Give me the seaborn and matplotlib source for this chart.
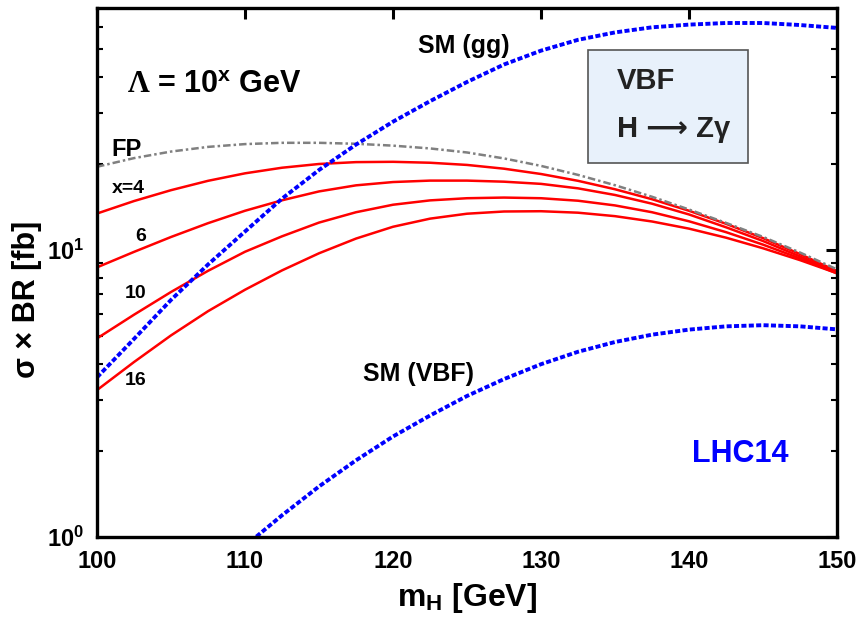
import numpy as np
import pandas as pd
import seaborn as sns
import matplotlib
matplotlib.use("Agg")
import matplotlib.pyplot as plt
from matplotlib.patches import Rectangle

# ---------------- data ----------------
m_grid = [100, 102.5, 105, 107.5, 110, 112.5, 115, 117.5, 120, 122.5, 125,
          127.5, 130, 132.5, 135, 137.5, 140, 142.5, 145, 147.5, 150]

fp_vals = [19.5, 20.9, 22.03, 22.87, 23.39, 23.63, 23.63, 23.45, 23.1, 22.59, 21.87,
           20.85, 19.64, 18.27, 16.82, 15.33, 13.84, 12.43, 11.11, 9.8, 8.56]
x4_vals = [13.4, 14.81, 16.16, 17.42, 18.5, 19.35, 19.94, 20.24, 20.29, 20.14, 19.79,
           19.2, 18.4, 17.42, 16.28, 15.03, 13.7, 12.34, 11.0, 9.68, 8.44]
x6_vals = [8.7, 9.85, 11.1, 12.4, 13.7, 14.9, 16.0, 16.8, 17.25, 17.45, 17.45,
           17.3, 17.0, 16.4, 15.55, 14.5, 13.3, 12.0, 10.75, 9.5, 8.35]
x10_vals = [4.92, 5.95, 7.14, 8.46, 9.86, 11.16, 12.46, 13.54, 14.38, 14.89, 15.15,
            15.23, 15.15, 14.85, 14.3, 13.54, 12.59, 11.54, 10.44, 9.35, 8.29]
x16_vals = [3.25, 4.07, 5.04, 6.12, 7.27, 8.49, 9.74, 10.96, 12.05, 12.86, 13.38,
            13.62, 13.65, 13.49, 13.12, 12.57, 11.87, 11.04, 10.14, 9.22, 8.30]
sm_gg_vals = [3.6, 4.9, 6.7, 8.9, 11.6, 15.1, 19.0, 23.3, 28.0, 33.0, 38.5,
              44.3, 49.5, 54.0, 57.3, 59.7, 61.0, 61.8, 61.8, 60.8, 59.4]

m_vbf = [110, 112.5, 115, 117.5, 120, 122.5, 125, 127.5, 130, 132.5, 135,
         137.5, 140, 142.5, 145, 147.5, 150]
sm_vbf_vals = [0.93, 1.19, 1.50, 1.85, 2.24, 2.65, 3.10, 3.55, 4.0, 4.42, 4.78,
               5.07, 5.28, 5.42, 5.47, 5.42, 5.29]

x_ticks = [100, 110, 120, 130, 140, 150]
y_ticks = [1, 10]
y_tick_labels = [r"$\mathbf{10^{0}}$", r"$\mathbf{10^{1}}$"]

# ---------------- style ----------------
sns.set_style("white")
plt.rcParams["font.family"] = ["Liberation Sans", "DejaVu Sans"]
plt.rcParams["font.weight"] = "bold"
plt.rcParams["text.color"] = "black"
plt.rcParams["axes.labelcolor"] = "black"
plt.rcParams["xtick.color"] = "black"
plt.rcParams["ytick.color"] = "black"
plt.rcParams["mathtext.fontset"] = "custom"
plt.rcParams["mathtext.rm"] = "Liberation Serif"
plt.rcParams["mathtext.it"] = "Liberation Serif:italic"
plt.rcParams["mathtext.bf"] = "Liberation Sans:bold"
plt.rcParams["mathtext.sf"] = "Liberation Sans:bold"

fig = plt.figure(figsize=(8.65, 6.21), dpi=100)
ax = fig.add_axes([97 / 865, 1 - 537 / 621, 740 / 865, 529 / 621])

red = "#ff0000"
blue = "#0000ff"
gray = "#808080"

df = pd.DataFrame({"m": m_grid, "FP": fp_vals, "x4": x4_vals, "x6": x6_vals,
                   "x10": x10_vals, "x16": x16_vals, "gg": sm_gg_vals})
dv = pd.DataFrame({"m": m_vbf, "vbf": sm_vbf_vals})

for col in ["x4", "x6", "x10", "x16"]:
    sns.lineplot(data=df, x="m", y=col, ax=ax, color=red, lw=1.8)
sns.lineplot(data=df, x="m", y="FP", ax=ax, color=gray, lw=1.8,
             linestyle=(0, (3, 1.2, 1, 1.2)))
sns.lineplot(data=df, x="m", y="gg", ax=ax, color=blue, lw=2.8,
             linestyle=(0, (1.3, 0.6)))
sns.lineplot(data=dv, x="m", y="vbf", ax=ax, color=blue, lw=2.8,
             linestyle=(0, (1.3, 0.6)))

ax.set_yscale("log")
ax.set_xlim(100, 150)
ax.set_ylim(1, 69.7)
ax.set_xticks(x_ticks)
ax.set_xticklabels([str(t) for t in x_ticks], fontsize=17, fontweight="bold")
ax.set_yticks(y_ticks)
ax.set_yticklabels(y_tick_labels, fontsize=17)
ax.minorticks_on()
ax.xaxis.set_minor_locator(matplotlib.ticker.NullLocator())
ax.tick_params(which="major", direction="in", length=8, width=2.2,
               top=True, right=True, pad=9)
ax.tick_params(which="minor", direction="in", length=4, width=1.5,
               left=True, right=True)
for s in ax.spines.values():
    s.set_linewidth(2.4)
    s.set_color("black")

ax.set_xlabel(r"m$_{\mathbf{H}}$ [GeV]", fontsize=23, fontweight="bold", labelpad=6)
ax.set_ylabel("σ × BR [fb]", fontsize=22, fontweight="bold")
ax.yaxis.set_label_coords(-0.074, 0.45)

# ---------------- annotations ----------------
ax.text(102.03, 35.2, r"$\mathrm{\Lambda}$ = 10$^{\mathbf{x}}$ GeV", fontsize=22,
        fontweight="bold", va="baseline", ha="left")
ax.text(101.0, 21.3, "FP", fontsize=17, fontweight="bold", va="baseline")
ax.text(101.0, 15.8, "x=4", fontsize=14, fontweight="bold", va="baseline")
ax.text(102.57, 10.75, "6", fontsize=14, fontweight="bold", va="baseline")
ax.text(101.9, 6.81, "10", fontsize=14, fontweight="bold", va="baseline")
ax.text(101.9, 3.39, "16", fontsize=14, fontweight="bold", va="baseline")
ax.text(121.7, 48.6, "SM (gg)", fontsize=18, fontweight="bold", va="baseline")
ax.text(118.0, 3.5, "SM (VBF)", fontsize=18, fontweight="bold", va="baseline")
ax.text(140.2, 1.825, "LHC14", fontsize=22, fontweight="bold", color=blue,
        va="baseline")

box = Rectangle((0.6635, 0.707), 0.8797 - 0.6635, 0.9206 - 0.707,
                transform=ax.transAxes, facecolor="#e8f1fb", edgecolor="#555555",
                lw=1.2, zorder=3)
ax.add_patch(box)
ax.text(0.7027, 0.847, "VBF", transform=ax.transAxes, fontsize=21,
        fontweight="bold", color="#222222", va="baseline", zorder=4)
ax.text(0.7027, 0.756, "H \u27f6 Z\u03b3", transform=ax.transAxes,
        fontsize=21, fontweight="bold", color="#222222", va="baseline", zorder=4,
        family=["Liberation Sans", "DejaVu Sans"])

fig.savefig("out.png", dpi=100)
